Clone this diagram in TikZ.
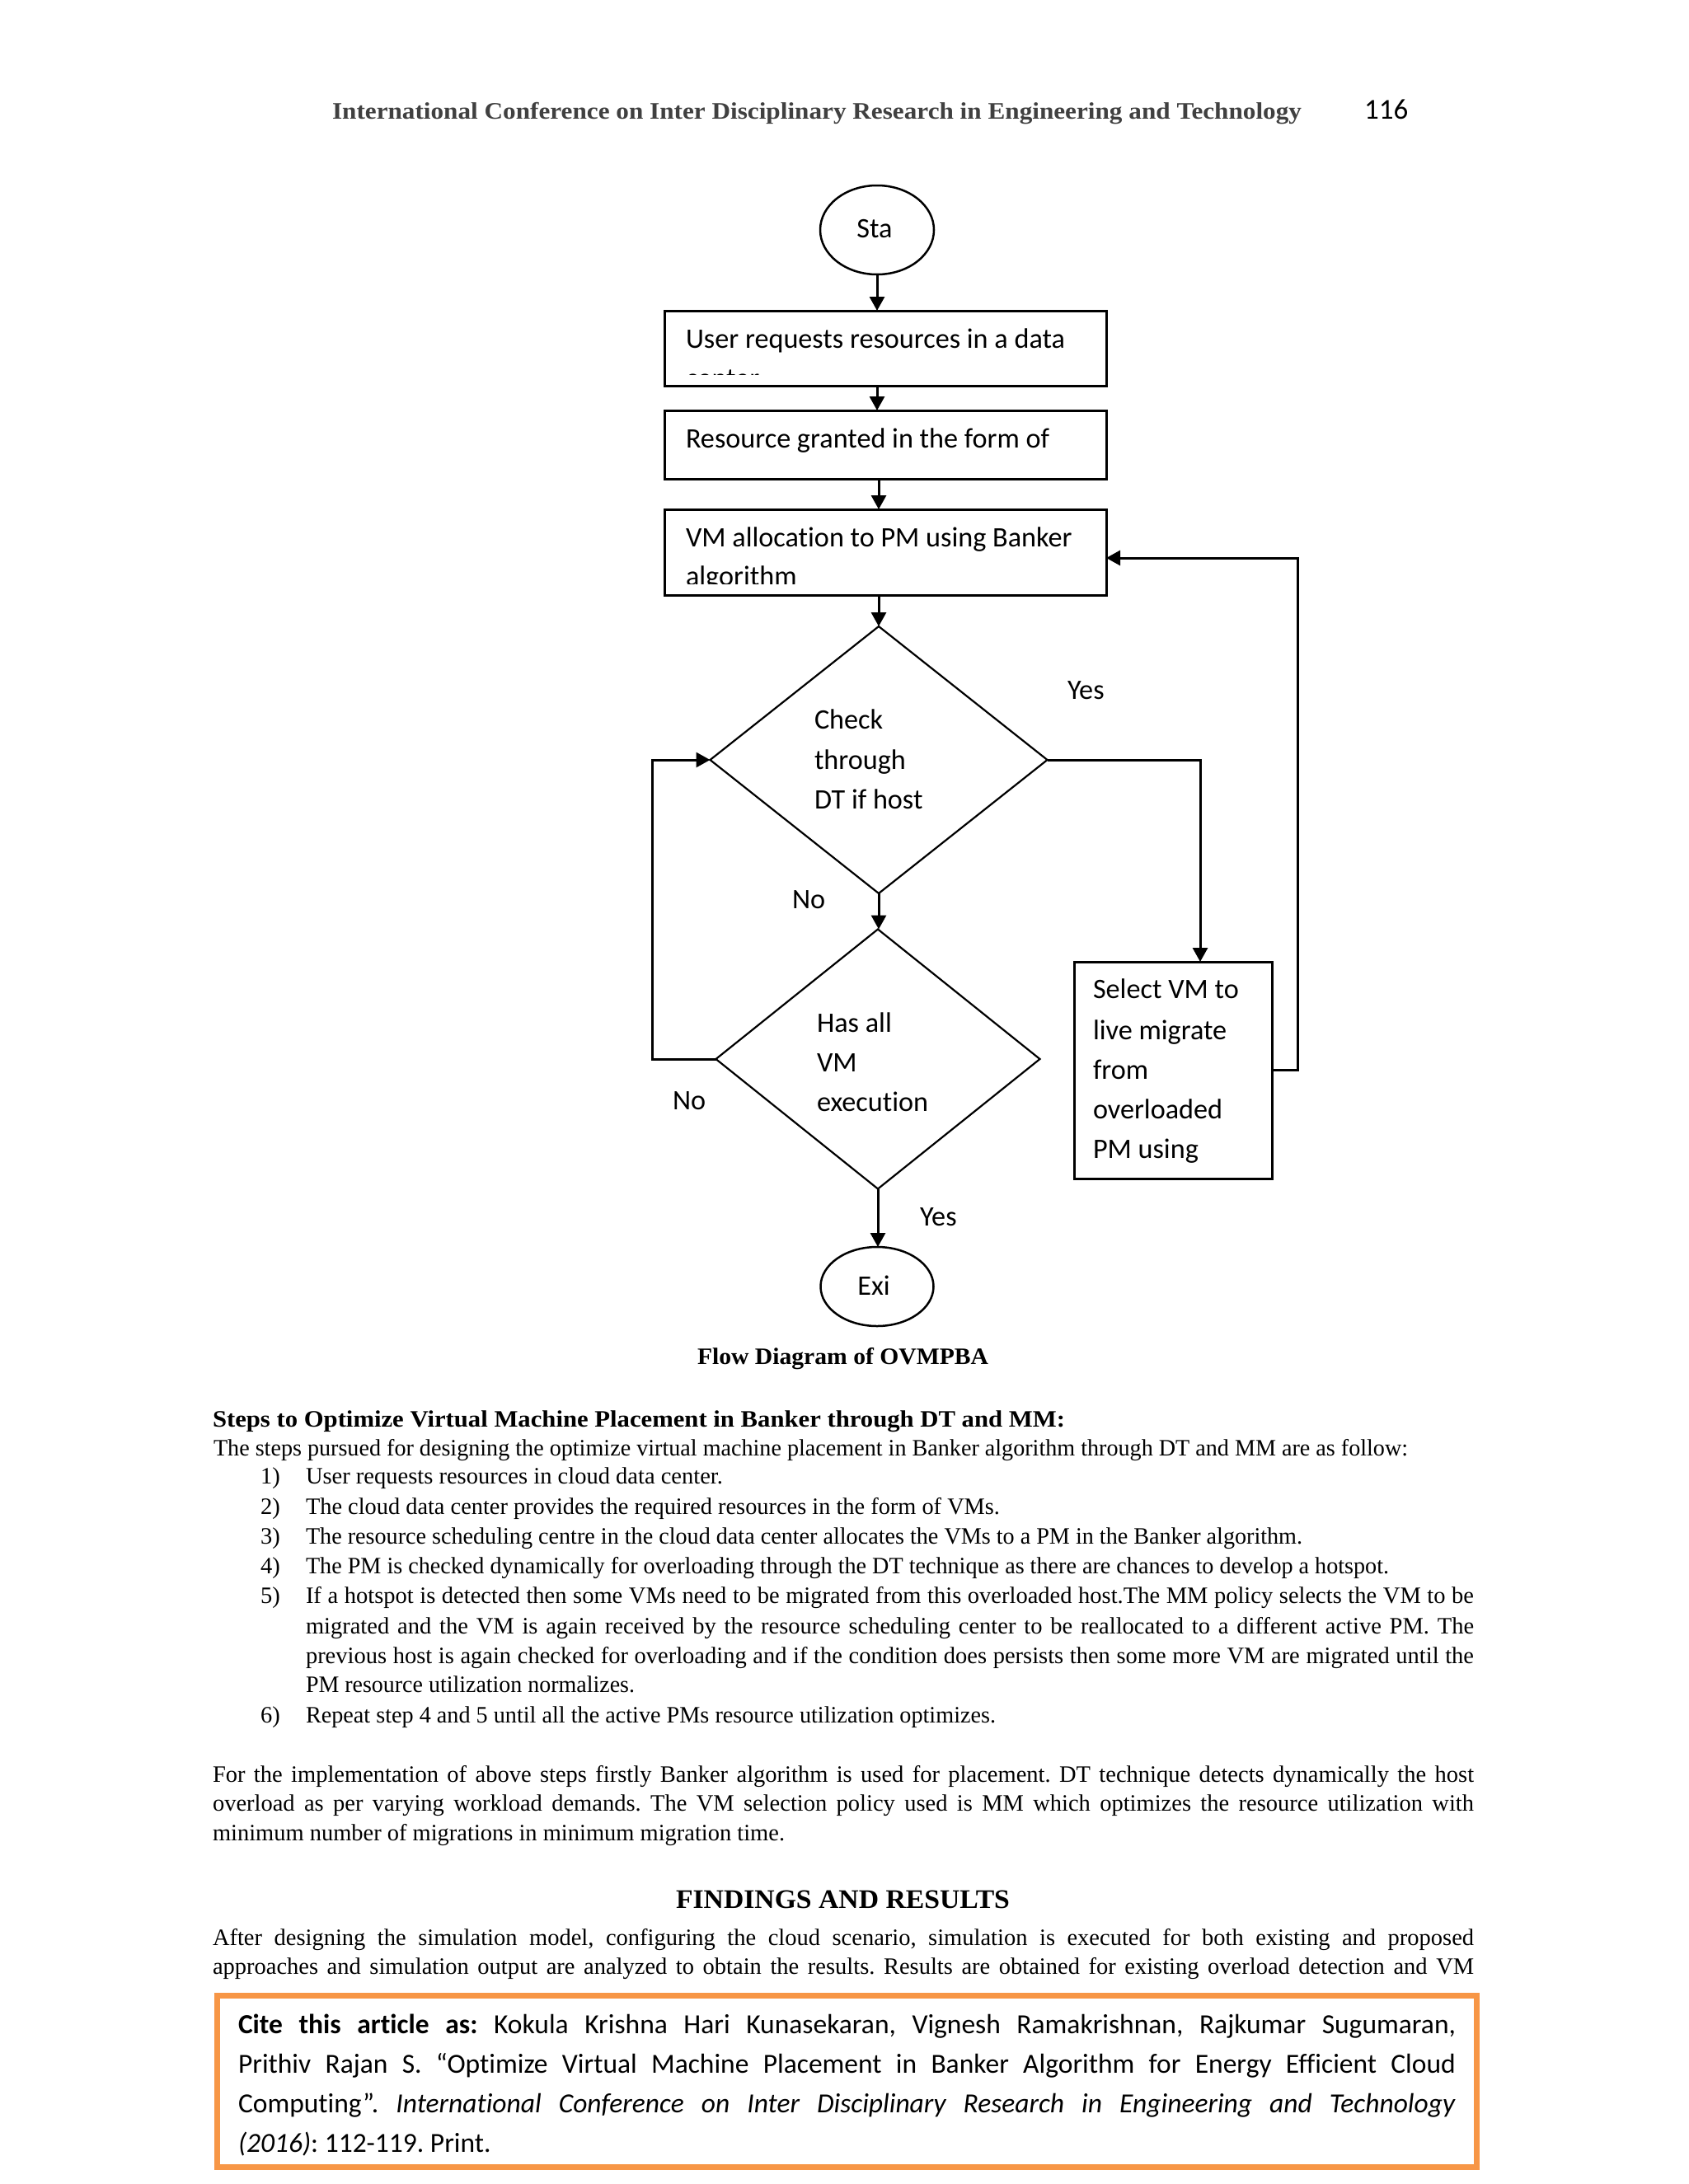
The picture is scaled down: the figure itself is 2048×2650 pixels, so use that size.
\documentclass[tikz,border=0pt]{standalone}
\usepackage{fontspec}
\setmainfont{Liberation Serif}
\newfontfamily\calfont[Ligatures={NoCommon}]{Carlito}
\usetikzlibrary{arrows.meta,shapes.geometric}
\definecolor{hdrgray}{HTML}{404040}
\definecolor{citeorange}{HTML}{F79646}
\frenchspacing
\newsavebox\fitsbox
\makeatletter
\newcommand\fitw[2]{\sbox\fitsbox{#2}\edef\fitnat{\strip@pt\wd\fitsbox}\pgfmathsetmacro\fitratio{#1/\fitnat}\scalebox{\fitratio}[1]{\usebox\fitsbox}}
\makeatother
\newcommand\justw[2]{\sbox\fitsbox{#2}\ifdim\wd\fitsbox>#1pt\relax\fitw{#1}{#2}\else\makebox[#1pt][s]{#2}\fi}
\tikzset{
  body/.style={anchor=base west, inner sep=0pt, outer sep=0pt, font=\fontsize{28.5}{34}\selectfont},
  bodyb/.style={anchor=base west, inner sep=0pt, outer sep=0pt, font=\bfseries\fontsize{28.5}{34}\selectfont},
  fc/.style={anchor=base west, inner sep=0pt, outer sep=0pt, font=\calfont\fontsize{34.2}{40}\selectfont},
  cite/.style={anchor=base west, inner sep=0pt, outer sep=0pt, font=\calfont\fontsize{33.5}{40}\selectfont},
  procbox/.style={draw, line width=3pt, rectangle, inner sep=0pt, outer sep=0pt},
  decis/.style={draw, line width=2.2pt, diamond, inner sep=0pt, outer sep=0pt},
  term/.style={draw, line width=2.5pt, ellipse, inner sep=0pt, outer sep=0pt},
  conn/.style={line width=3pt, -{Triangle[length=17pt,width=18pt]}},
}
\begin{document}
\begin{tikzpicture}[x=1pt,y=-1pt]
\useasboundingbox (0,0) rectangle (2048,2650);
\fill[white] (0,0) rectangle (2048,2650);

% header
\node[bodyb, font=\bfseries\fontsize{28.7}{34}\selectfont, text=hdrgray] (hdr) at (403,144) {\fitw{1176}{International Conference on Inter Disciplinary Research in Engineering and Technology}};
\node[fc, font=\calfont\fontsize{35}{40}\selectfont] (pg) at (1655,144) {116};

% flowchart shapes
\node[term, minimum width=138pt, minimum height=108pt] (start) at (1064,279) {};
\node[fc, anchor=base] (tsta) at (1061,288) {Sta};

\node[procbox, minimum width=536pt, minimum height=91pt] (b1) at (1074,422.5) {};
\begin{scope}
\clip (806,377) rectangle (1342,454);
\node[fc] (t1a) at (832,422) {User requests resources in a data};
\node[fc] (t1b) at (832,470) {center};
\end{scope}

\node[procbox, minimum width=536pt, minimum height=83pt] (b2) at (1074,539.5) {};
\node[fc] (t2a) at (832,543) {Resource granted in the form of};

\node[procbox, minimum width=536pt, minimum height=104pt] (b3) at (1074,670) {};
\begin{scope}
\clip (806,618) rectangle (1342,708);
\node[fc] (t3a) at (832,663) {VM allocation to PM using Banker};
\node[fc] (t3b) at (832,710) {algorithm};
\end{scope}

\node[decis, minimum width=409pt, minimum height=324pt] (d1) at (1066,922) {};
\node[fc] (td1a) at (988,884) {Check};
\node[fc] (td1b) at (988,933) {through};
\node[fc] (td1c) at (988,981) {DT if host};

\node[decis, minimum width=393pt, minimum height=315pt] (d2) at (1065,1285) {};
\node[fc] (td2a) at (991,1252) {Has all};
\node[fc] (td2b) at (991,1300) {VM};
\node[fc] (td2c) at (991,1348) {execution};

\node[procbox, minimum width=240pt, minimum height=263pt] (sel) at (1423,1298.5) {};
\node[fc] (ts1) at (1326,1211) {Select VM to};
\node[fc] (ts2) at (1326,1261) {live migrate};
\node[fc] (ts3) at (1326,1309) {from};
\node[fc] (ts4) at (1326,1357) {overloaded};
\node[fc] (ts5) at (1326,1405) {PM using};

\node[term, minimum width=137pt, minimum height=96pt] (exit) at (1064,1561) {};
\node[fc, anchor=base] (texi) at (1060,1571) {Exi};

% labels
\node[fc] (lyes1) at (1295,848) {Yes};
\node[fc] (lno1) at (961,1102) {No};
\node[fc] (lno2) at (816,1346) {No};
\node[fc] (lyes2) at (1116,1487) {Yes};

% connectors
\draw[conn] (start.south) -- (b1.north -| start.south);
\draw[conn] (b1.south -| start.south) -- (b2.north -| start.south);
\draw[conn] (b2.south -| d1.north) -- (b3.north -| d1.north);
\draw[conn] (b3.south -| d1.north) -- (d1.north);
\draw[conn] (d1.south) -- (d2.north -| d1.south);
\coordinate (yj) at (1456,1000);
\draw[conn] (d1.east) -| (yj |- sel.north);
\coordinate (rj) at (1574,677);
\draw[conn] (sel.east) -| (rj) -- (rj -| b3.east);
\coordinate (lj) at (791,1100);
\draw[conn] (d2.west) -| (lj |- d1.west) -- (d1.west);
\draw[conn] (d2.south) -- (d2.south |- exit.north);

% caption
\node[bodyb] (cap) at (846,1655) {\fitw{353}{Flow Diagram of OVMPBA}};

% steps
\node[bodyb] (sh) at (258,1731) {\fitw{1034}{Steps to Optimize Virtual Machine Placement in Banker through DT and MM:}};
\node[body] (sl0) at (259,1766) {\fitw{1449}{The steps pursued for designing the optimize virtual machine placement in Banker algorithm through DT and MM are as follow:}};
\node[body] (n1) at (316,1800) {1)};
\node[body] (s1) at (371,1800) {\fitw{506}{User requests resources in cloud data center.}};
\node[body] (n2) at (316,1837) {2)};
\node[body] (s2) at (371,1837) {\fitw{842}{The cloud data center provides the required resources in the form of VMs.}};
\node[body] (n3) at (316,1873) {3)};
\node[body] (s3) at (371,1873) {\fitw{1209}{The resource scheduling centre in the cloud data center allocates the VMs to a PM in the Banker algorithm.}};
\node[body] (n4) at (316,1909) {4)};
\node[body] (s4) at (371,1909) {\fitw{1314}{The PM is checked dynamically for overloading through the DT technique as there are chances to develop a hotspot.}};
\node[body] (n5) at (316,1945) {5)};
\node[body] (s5a) at (371,1945) {\justw{1417}{If a hotspot is detected then some VMs need to be migrated from this overloaded host.The MM policy selects the VM to be}};
\node[body] (s5b) at (371,1982) {\justw{1417}{migrated and the VM is again received by the resource scheduling center to be reallocated to a different active PM. The}};
\node[body] (s5c) at (371,2018) {\justw{1417}{previous host is again checked for overloading and if the condition does persists then some more VM are migrated until the}};
\node[body] (s5d) at (371,2053) {\fitw{399}{PM resource utilization normalizes.}};
\node[body] (n6) at (316,2090) {6)};
\node[body] (s6) at (371,2090) {\fitw{837}{Repeat step 4 and 5 until all the active PMs resource utilization optimizes.}};

% paragraph
\node[body] (p1) at (258,2162) {\justw{1530}{For the implementation of above steps firstly Banker algorithm is used for placement. DT technique detects dynamically the host}};
\node[body] (p2) at (258,2197) {\justw{1530}{overload as per varying workload demands. The VM selection policy used is MM which optimizes the resource utilization with}};
\node[body] (p3) at (258,2233) {\fitw{694}{minimum number of migrations in minimum migration time.}};

\node[bodyb, font=\bfseries\fontsize{32.5}{38}\selectfont] (fr) at (820,2315) {\fitw{405}{FINDINGS AND RESULTS}};
\node[body] (a1) at (258,2360) {\justw{1530}{After designing the simulation model, configuring the cloud scenario, simulation is executed for both existing and proposed}};
\node[body] (a2) at (258,2395) {\justw{1530}{approaches and simulation output are analyzed to obtain the results. Results are obtained for existing overload detection and VM}};

% cite box
\node[draw=citeorange, line width=7pt, rectangle, inner sep=0pt, minimum width=1528pt, minimum height=208pt] (citebox) at (1027.5,2525.5) {};
\node[cite] (c1) at (289,2467) {\justw{1477}{\textbf{Cite this article as:} Kokula Krishna Hari Kunasekaran, Vignesh Ramakrishnan, Rajkumar Sugumaran,}};
\node[cite] (c2) at (289,2515) {\justw{1477}{Prithiv Rajan S. “Optimize Virtual Machine Placement in Banker Algorithm for Energy Efficient Cloud}};
\node[cite] (c3) at (289,2563) {\justw{1477}{Computing”. \textit{International Conference on Inter Disciplinary Research in Engineering and Technology}}};
\node[cite] (c4) at (289,2611) {\textit{(2016)}: 112-119. Print.};
\end{tikzpicture}
\end{document}
